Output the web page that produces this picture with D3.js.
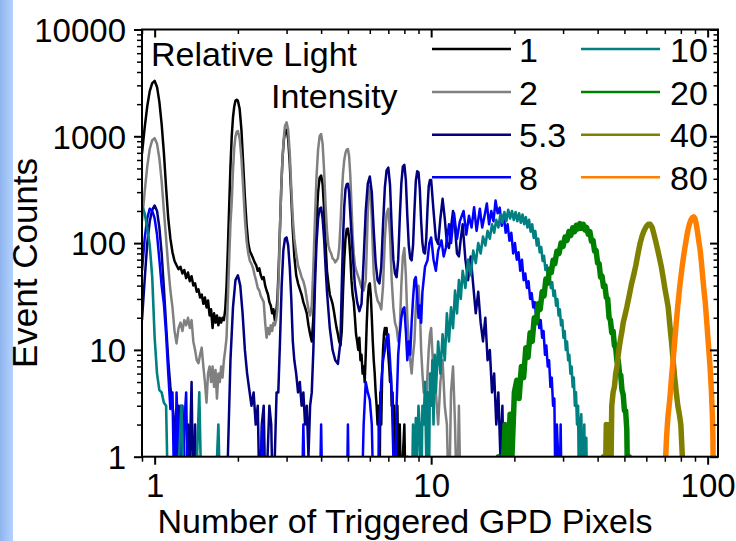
<!DOCTYPE html>
<html><head><meta charset="utf-8">
<script src="https://cdn.jsdelivr.net/npm/d3@7"></script>
<style>body{margin:0;background:#fff} svg{display:block} text{font-family:Arial,"Liberation Sans",sans-serif;fill:#000}</style>
</head><body><svg id="c" width="736" height="541"></svg>
<script>
// ---------------- data ----------------
const seriesNames = ["1","2","5.3","8","10","20","40","80"];
const seriesColors = ["#000000","#808080","#000080","#0000ff","#008080","#008000","#808000","#ff8000"];
const xTickValues = [1,10,100];
const xTickLabels = ["1","10","100"];
const yTickValues = [1,10,100,1000,10000];
const yTickLabels = ["1","10","100","1000","10000"];
const legendTitle = ["Relative Light","Intensity"];
const xTitle = "Number of Triggered GPD Pixels";
const yTitle = "Event Counts";

const s1 = [[0.9,690],[0.92,1200],[0.94,1900],[0.96,2650],[0.98,3150],[1.0,3300],[1.02,2900],[1.04,2100],[1.06,1300],[1.08,700],[1.1,330],[1.12,170],[1.14,110],[1.16,82],[1.18,68],[1.2,62],[1.22,57],[1.24,60],[1.26,52],[1.28,56],[1.3,47],[1.32,53],[1.34,44],[1.36,49],[1.38,40],[1.4,42],[1.42,35],[1.44,37],[1.46,31],[1.48,33],[1.5,27],[1.52,31],[1.54,25],[1.56,29],[1.58,21],[1.6,24],[1.62,16],[1.64,22],[1.66,18],[1.68,21],[1.7,17],[1.72,20],[1.74,18],[1.76,20],[1.78,19],[1.8,24],[1.82,40],[1.84,90],[1.86,220],[1.88,520],[1.9,1000],[1.92,1500],[1.94,1900],[1.96,2150],[1.98,2200],[2.0,2150],[2.03,1800],[2.06,1150],[2.09,560],[2.12,270],[2.15,150],[2.18,100],[2.21,84],[2.24,78],[2.27,72],[2.3,66],[2.33,62],[2.36,55],[2.39,58],[2.42,50],[2.45,46],[2.48,48],[2.51,40],[2.54,36],[2.57,33],[2.6,28],[2.63,26],[2.66,22],[2.69,24],[2.72,19],[2.75,22],[2.78,30],[2.81,60],[2.84,140],[2.87,330],[2.9,620],[2.93,900],[2.96,1100],[3.0,1150],[3.04,950],[3.08,560],[3.12,270],[3.16,130],[3.2,75],[3.25,50],[3.3,42],[3.35,37],[3.4,33],[3.45,28],[3.5,25],[3.55,22],[3.6,17],[3.65,14],[3.7,12],[3.75,20],[3.8,60],[3.85,160],[3.9,300],[3.95,410],[4.0,430],[4.05,360],[4.1,210],[4.15,100],[4.2,55],[4.25,42],[4.3,33],[4.35,30],[4.4,27],[4.45,23],[4.5,19],[4.55,16],[4.6,14],[4.65,12],[4.7,11],[4.75,15],[4.8,35],[4.85,70],[4.9,110],[4.95,135],[5.0,137],[5.05,110],[5.1,75],[5.15,45],[5.2,33],[5.25,28],[5.3,20],[5.35,14],[5.4,12],[5.45,10],[5.5,13],[5.55,8],[5.6,9],[5.65,6],[5.7,7],[5.75,5],[5.8,9],[5.85,18],[5.9,30],[5.95,40],[6.0,42],[6.05,32],[6.1,20],[6.15,12],[6.2,8],[6.25,6],[6.3,4],[6.35,3],[6.4,2],[6.45,3],[6.5,0],[6.55,4],[6.6,2],[6.65,6],[6.7,10],[6.75,14],[6.8,16],[6.85,14],[6.9,16],[6.95,12],[7.0,9],[7.05,7],[7.1,5],[7.15,6],[7.2,3],[7.25,4],[7.3,2],[7.35,3],[7.4,1],[7.45,0],[7.5,2],[7.55,3],[7.6,1],[7.7,2],[7.8,0],[7.9,1],[8.0,2],[8.1,0],[8.2,1],[8.3,0]];

const s2 = [[0.9,160],[0.92,300],[0.94,520],[0.96,760],[0.98,920],[1.0,960],[1.02,850],[1.04,620],[1.06,380],[1.08,200],[1.1,110],[1.12,60],[1.14,36],[1.16,25],[1.18,15],[1.2,11.5],[1.22,16],[1.24,18],[1.26,15],[1.28,19],[1.3,17],[1.32,20],[1.34,16],[1.36,19],[1.38,12],[1.4,10],[1.42,8],[1.44,7.5],[1.46,9],[1.48,10.5],[1.5,7],[1.52,5],[1.54,3.2],[1.56,6],[1.58,7],[1.6,5],[1.62,7],[1.64,4.5],[1.66,6.5],[1.68,3.5],[1.7,6],[1.72,5],[1.74,7],[1.76,5.5],[1.78,8],[1.8,10],[1.82,13],[1.84,30],[1.86,70],[1.88,150],[1.9,240],[1.92,480],[1.94,780],[1.96,1000],[1.98,1100],[2.0,1120],[2.03,950],[2.06,620],[2.09,330],[2.12,170],[2.15,105],[2.18,80],[2.21,68],[2.24,64],[2.27,58],[2.3,50],[2.33,44],[2.36,38],[2.39,36],[2.42,32],[2.45,30],[2.48,28],[2.51,18],[2.54,13],[2.57,16],[2.6,14],[2.63,17],[2.66,15],[2.69,18],[2.72,17],[2.75,19],[2.78,24],[2.81,50],[2.84,140],[2.87,330],[2.9,620],[2.93,950],[2.96,1250],[3.0,1350],[3.04,1150],[3.08,700],[3.12,330],[3.16,170],[3.2,110],[3.25,80],[3.3,62],[3.35,55],[3.4,48],[3.45,44],[3.5,38],[3.55,30],[3.6,24],[3.65,21],[3.7,26],[3.75,60],[3.8,170],[3.85,420],[3.9,750],[3.95,1000],[4.0,1050],[4.05,850],[4.1,480],[4.15,230],[4.2,130],[4.25,95],[4.3,85],[4.35,80],[4.4,72],[4.45,70],[4.5,66],[4.55,69],[4.6,72],[4.65,90],[4.7,150],[4.75,280],[4.8,450],[4.85,600],[4.9,700],[4.95,750],[5.0,760],[5.05,650],[5.1,430],[5.15,230],[5.2,120],[5.25,80],[5.3,62],[5.35,56],[5.4,52],[5.5,45],[5.6,38],[5.7,36],[5.8,45],[5.85,90],[5.9,190],[5.95,300],[6.0,340],[6.05,280],[6.1,170],[6.15,90],[6.2,52],[6.3,35],[6.4,29],[6.5,27],[6.6,24],[6.7,40],[6.8,110],[6.9,190],[7.0,210],[7.1,120],[7.2,45],[7.3,25],[7.4,18],[7.5,16],[7.6,12],[7.7,15],[7.8,40],[7.9,75],[8.0,90],[8.1,50],[8.2,20],[8.3,12],[8.4,8],[8.5,6],[8.6,9],[8.7,12],[8.8,25],[8.9,35],[9.0,40],[9.1,25],[9.2,10],[9.3,6],[9.4,4],[9.5,5],[9.6,3],[9.7,6],[9.8,10],[9.9,14],[10.0,16],[10.2,6],[10.4,4],[10.6,2],[10.8,5],[11.0,8],[11.2,3],[11.4,2],[11.6,0],[11.8,4],[12.0,7],[12.2,2],[12.4,0],[12.6,3],[12.8,0]];

const s3 = [[0.9,19],[0.92,45],[0.94,99],[0.96,160],[0.98,205],[1.0,225],[1.02,200],[1.04,140],[1.06,80],[1.08,38],[1.1,17],[1.12,8],[1.14,4.5],[1.16,3],[1.18,2],[1.2,1],[1.22,3],[1.24,0],[1.26,3],[1.28,1],[1.3,0],[1.32,2],[1.34,1],[1.36,5],[1.38,0],[1.4,2],[1.42,0],[1.44,1],[1.5,0],[1.8,0],[1.84,1],[1.88,8],[1.92,25],[1.96,45],[2.0,50],[2.04,40],[2.08,22],[2.12,10],[2.16,6],[2.2,4.2],[2.24,3],[2.28,4],[2.32,2],[2.36,3],[2.4,0],[2.44,2],[2.48,3],[2.52,0],[2.56,1],[2.6,3],[2.64,2],[2.68,0],[2.72,1],[2.76,4],[2.8,4],[2.84,12],[2.88,40],[2.92,85],[2.96,110],[3.0,113],[3.04,95],[3.08,60],[3.12,30],[3.16,12],[3.2,8],[3.25,6],[3.3,4],[3.35,5],[3.4,3],[3.45,4],[3.5,2],[3.55,3],[3.6,1],[3.65,3],[3.7,4],[3.75,10],[3.8,40],[3.85,100],[3.9,170],[3.95,210],[4.0,215],[4.05,170],[4.1,110],[4.15,60],[4.2,35],[4.3,16],[4.4,10],[4.5,8],[4.6,7.4],[4.7,12],[4.75,40],[4.8,110],[4.85,220],[4.9,320],[4.95,355],[5.0,360],[5.05,300],[5.1,190],[5.2,80],[5.3,40],[5.4,28],[5.5,23],[5.6,27],[5.7,70],[5.8,200],[5.9,360],[6.0,420],[6.1,300],[6.2,130],[6.3,65],[6.4,45],[6.5,42],[6.6,60],[6.7,150],[6.8,330],[6.9,480],[7.0,510],[7.1,350],[7.2,140],[7.3,70],[7.4,52],[7.5,48],[7.6,70],[7.7,170],[7.8,360],[7.9,520],[8.0,540],[8.1,390],[8.2,180],[8.3,95],[8.4,72],[8.5,69],[8.6,95],[8.7,200],[8.8,380],[8.9,470],[9.0,460],[9.1,320],[9.2,160],[9.3,100],[9.4,82],[9.5,80],[9.6,110],[9.7,210],[9.8,340],[9.9,390],[10.0,390],[10.2,200],[10.4,110],[10.6,98],[10.8,170],[11.0,260],[11.2,170],[11.4,100],[11.6,90],[11.8,140],[12.0,200],[12.2,140],[12.4,80],[12.6,75],[12.8,110],[13.0,150],[13.3,70],[13.6,45],[13.9,75],[14.2,40],[14.5,22],[14.8,35],[15.1,18],[15.4,12],[15.7,20],[16.0,8],[16.3,10],[16.6,4],[16.9,6],[17.2,2],[17.5,4],[17.8,1],[18.1,3],[18.4,0],[18.7,2],[19.0,0],[19.3,1],[19.6,0]];

const s4 = [[0.9,55],[0.92,110],[0.94,170],[0.96,210],[0.98,200],[1.0,170],[1.02,120],[1.04,70],[1.06,40],[1.08,27],[1.1,14],[1.12,6],[1.14,2.8],[1.16,4],[1.18,0],[1.2,4],[1.22,1],[1.24,3],[1.26,0],[1.28,2],[1.3,4],[1.32,0],[1.34,1],[1.36,0],[1.4,1],[1.45,0],[2.4,0],[2.45,2],[2.5,0],[3.4,0],[3.45,2],[3.5,0],[3.95,0],[4.0,2],[4.05,0],[4.95,0],[5.0,2],[5.05,0],[5.6,0],[5.7,2],[5.8,5],[5.9,4],[6.0,3.4],[6.1,2],[6.2,0],[6.4,0],[6.5,2],[6.6,5],[6.7,8],[6.8,10],[6.9,13],[7.0,14],[7.1,8],[7.2,4],[7.3,1],[7.4,0],[7.5,3],[7.6,9],[7.7,14],[7.8,20],[7.9,24],[8.0,25],[8.1,15],[8.2,8],[8.3,12],[8.4,9],[8.5,18],[8.6,30],[8.7,45],[8.8,48],[8.9,32],[9.0,20],[9.1,26],[9.2,18],[9.3,35],[9.5,60],[9.7,69],[9.85,100],[10.0,113],[10.2,70],[10.4,55],[10.6,85],[10.9,106],[11.1,75],[11.3,90],[11.6,150],[11.8,100],[12.1,190],[12.4,110],[12.7,160],[13.1,200],[13.4,120],[13.7,180],[14.0,140],[14.3,217],[14.6,130],[15.0,210],[15.3,140],[15.6,180],[15.9,235],[16.2,150],[16.5,200],[16.8,160],[17.1,250],[17.4,190],[17.7,215],[18.0,145],[18.3,185],[18.6,125],[18.9,150],[19.2,105],[19.5,125],[19.8,80],[20.1,100],[20.4,70],[20.7,82],[21.0,55],[21.3,70],[21.6,45],[21.9,52],[22.2,38],[22.5,44],[22.8,30],[23.1,34],[23.4,25],[23.7,28],[24.0,20],[24.3,24],[24.6,16],[24.9,19],[25.2,13],[25.5,15],[25.8,9],[26.1,11],[26.4,7],[26.7,8],[27.0,4.5],[27.3,5.5],[27.6,3],[27.9,3.5],[28.2,0],[28.5,2],[28.8,1],[29.1,0],[29.4,2],[29.7,0]];

const s5 = [[0.9,225],[0.92,190],[0.94,140],[0.96,95],[0.98,48],[1.0,13],[1.02,6],[1.04,4.2],[1.06,4],[1.08,3.2],[1.1,3],[1.12,0],[1.2,0],[1.25,3],[1.28,0],[1.4,0],[1.45,4],[1.48,0],[1.65,0],[1.7,2],[1.73,0],[8.5,0],[8.6,2],[8.7,0],[8.8,2.3],[8.9,1],[9.0,3],[9.1,1.9],[9.2,0],[9.3,3],[9.4,2],[9.5,5],[9.6,1],[9.7,4],[9.8,0],[9.9,6],[10.0,3],[10.1,8],[10.2,2],[10.3,9],[10.4,4],[10.6,12],[10.8,6],[11.0,14],[11.2,8],[11.4,22],[11.6,12],[11.8,25],[12.0,16],[12.2,36],[12.4,22],[12.6,45],[12.8,30],[13.0,55],[13.3,38],[13.6,70],[13.9,50],[14.2,85],[14.5,65],[14.8,100],[15.1,80],[15.4,115],[15.7,95],[16.0,130],[16.3,110],[16.6,150],[16.9,125],[17.2,165],[17.5,140],[17.8,185],[18.1,155],[18.4,195],[18.7,160],[19.0,205],[19.3,170],[19.6,200],[19.9,165],[20.2,195],[20.5,160],[20.8,190],[21.1,155],[21.4,185],[21.7,150],[22.0,175],[22.3,140],[22.6,165],[22.9,128],[23.2,150],[23.5,112],[23.8,130],[24.1,95],[24.4,110],[24.7,82],[25.0,92],[25.3,68],[25.6,76],[25.9,56],[26.2,62],[26.5,46],[26.8,52],[27.1,38],[27.4,43],[27.7,32],[28.0,36],[28.3,26],[28.6,30],[28.9,21],[29.2,24],[29.5,17],[29.8,19],[30.1,13],[30.4,15],[30.7,10],[31.0,12],[31.3,8],[31.6,9],[31.9,6],[32.2,7],[32.5,4.5],[32.8,5.5],[33.1,3],[33.4,4],[33.7,2],[34.0,3],[34.3,0],[34.6,2],[34.9,2.5],[35.2,1],[35.5,0],[35.8,2],[36.1,0],[36.4,1.5],[36.7,0]];

const s6 = [[17.0,0],[17.5,1],[18.0,0],[18.5,2],[19.0,1],[19.3,2.5],[19.6,1],[20.0,4],[20.4,5.2],[20.8,3.5],[21.2,7],[21.6,5.5],[22.0,10.5],[22.4,8.5],[22.8,14.5],[23.2,12],[23.6,20],[24.0,18],[24.4,27],[24.8,24],[25.2,35],[25.6,32],[26.0,46],[26.4,42],[26.8,57],[27.2,53],[27.6,69],[28.0,64],[28.5,84],[29.0,80],[29.5,100],[30.0,93],[30.5,114],[31.0,106],[31.5,128],[32.0,118],[32.5,139],[33.0,128],[33.5,147],[34.0,136],[34.5,152],[35.0,138],[35.5,150],[36.0,133],[36.5,140],[37.0,121],[37.5,128],[38.0,104],[38.5,106],[39.0,84],[39.5,85],[40.0,65],[40.5,64],[41.0,48],[41.5,49],[42.0,39],[42.5,40],[43.0,31],[43.5,30],[44.0,20],[44.5,19],[45.0,14.5],[45.5,15],[46.0,11],[46.5,10.5],[47.0,7.8],[47.5,8],[48.0,6],[48.5,5.8],[49.0,4.2],[49.5,3.8],[50.0,2.7],[50.5,2.7],[51.0,1.8],[51.5,0],[52.0,1],[52.5,0]];

const s7 = [[41.5,0],[42,1],[42.5,0],[43,2],[43.5,1],[44,2],[44.5,0],[45,3],[45.5,4],[46,4.5],[46.5,6],[47,7],[47.5,9],[48,11],[48.5,13],[49,15],[49.5,18],[50,20],[51,25],[52,32],[53,41],[54,50],[55,62],[56,80],[57,100],[58,118],[59,132],[60,143],[61,150],[62,150],[63,140],[64,120],[65,102],[66,86],[67,72],[68,60],[69,48],[70,38],[71,31],[72,25],[73,17],[74,12],[75,8],[76,5.5],[77,4],[78,3],[79,2.5],[80,2],[81,1],[81.5,0]];

const s8 = [[70,0],[70.5,1],[71,1.5],[71.5,2],[72,2.5],[73,3.5],[74,5.5],[75,8],[76,12],[77,18],[78,26],[79,36],[80,48],[81,62],[82,78],[83,95],[84,115],[85,135],[86,152],[87,165],[88,173],[89,176],[90,170],[91,150],[92,125],[93,102],[94,85],[95,65],[96,48],[97,36],[98,28],[99,20],[100,14],[101,10],[102,7],[103,4.5],[104,2.5],[104.5,1.5],[105,0]];

const seriesData = [s1,s2,s3,s4,s5,s6,s7,s8];

// ---------------- layout / style ----------------
const W = 736, H = 541;
const L = 142, R = 718, T = 29.5, B = 456.7;
const strokeW = [2.5,2.5,2.5,2.5,2.6,5.5,5.5,5.5];

const svg = d3.select("#c");
const defs = svg.append("defs");
const grad = defs.append("linearGradient").attr("id","strip").attr("x1","0").attr("x2","1");
grad.append("stop").attr("offset","0").attr("stop-color","#8fb3ee");
grad.append("stop").attr("offset","1").attr("stop-color","#b3d3ff");
svg.append("rect").attr("x",0).attr("y",0).attr("width",13).attr("height",H).attr("fill","url(#strip)");

defs.append("clipPath").attr("id","plot").append("rect")
  .attr("x",L).attr("y",T).attr("width",R-L).attr("height",B-T);

const x = d3.scaleLog().domain([0.9,109]).range([L,R]);
const y = d3.scaleLog().domain([1,10000]).range([B,T]);

const line = d3.line().x(d=>x(d[0])).y(d=>y(Math.max(d[1],0.3)));

const g = svg.append("g").attr("clip-path","url(#plot)");
seriesData.forEach((s,i)=>{
  g.append("path").datum(s).attr("d",line).attr("fill","none")
    .attr("stroke",seriesColors[i]).attr("stroke-width",strokeW[i])
    .attr("stroke-linejoin","round");
});

// axes
const xMinor = x.ticks().filter(v=>!xTickValues.includes(v) && v>=0.9);
const yMinor = y.ticks().filter(v=>!yTickValues.includes(v));

// bottom (outward)
svg.append("g").attr("transform",`translate(0,${B})`)
  .call(d3.axisBottom(x).tickValues(xTickValues).tickFormat((d,i)=>xTickLabels[i]).tickSize(8).tickPadding(6))
  .call(a=>{a.select(".domain").remove(); a.selectAll("line").attr("stroke","#000").attr("stroke-width",2);
    a.selectAll("text").attr("font-size",33).attr("fill","#000").attr("dy","0.75em").attr("y",16);});
svg.append("g").attr("transform",`translate(0,${B})`)
  .call(d3.axisBottom(x).tickValues(xMinor).tickFormat("").tickSize(5))
  .call(a=>{a.select(".domain").remove(); a.selectAll("line").attr("stroke","#000").attr("stroke-width",1.5);});
// top (inward)
svg.append("g").attr("transform",`translate(0,${T})`)
  .call(d3.axisBottom(x).tickValues(xTickValues).tickFormat("").tickSize(8))
  .call(a=>{a.select(".domain").remove(); a.selectAll("line").attr("stroke","#000").attr("stroke-width",2);});
svg.append("g").attr("transform",`translate(0,${T})`)
  .call(d3.axisBottom(x).tickValues(xMinor).tickFormat("").tickSize(4.5))
  .call(a=>{a.select(".domain").remove(); a.selectAll("line").attr("stroke","#000").attr("stroke-width",1.5);});
// left (outward)
svg.append("g").attr("transform",`translate(${L},0)`)
  .call(d3.axisLeft(y).tickValues(yTickValues).tickFormat((d,i)=>yTickLabels[i]).tickSize(8).tickPadding(8))
  .call(a=>{a.select(".domain").remove(); a.selectAll("line").attr("stroke","#000").attr("stroke-width",2);
    a.selectAll("text").attr("font-size",33).attr("fill","#000").attr("dy","0.36em");});
svg.append("g").attr("transform",`translate(${L},0)`)
  .call(d3.axisLeft(y).tickValues(yMinor).tickFormat("").tickSize(5))
  .call(a=>{a.select(".domain").remove(); a.selectAll("line").attr("stroke","#000").attr("stroke-width",1.5);});
// right (inward)
svg.append("g").attr("transform",`translate(${R},0)`)
  .call(d3.axisLeft(y).tickValues(yTickValues).tickFormat("").tickSize(8))
  .call(a=>{a.select(".domain").remove(); a.selectAll("line").attr("stroke","#000").attr("stroke-width",2);});
svg.append("g").attr("transform",`translate(${R},0)`)
  .call(d3.axisLeft(y).tickValues(yMinor).tickFormat("").tickSize(4.5))
  .call(a=>{a.select(".domain").remove(); a.selectAll("line").attr("stroke","#000").attr("stroke-width",1.5);});
// frame
svg.append("rect").attr("x",L).attr("y",T).attr("width",R-L).attr("height",B-T)
  .attr("fill","none").attr("stroke","#000").attr("stroke-width",2);

// titles
svg.append("text").attr("x",405).attr("y",533).attr("text-anchor","middle").attr("font-size",34).text(xTitle);
svg.append("text").attr("transform","translate(37,263) rotate(-90)").attr("text-anchor","middle").attr("font-size",35).text(yTitle);

// legend
svg.append("text").attr("x",151).attr("y",66).attr("font-size",34).text(legendTitle[0]);
svg.append("text").attr("x",271).attr("y",108).attr("font-size",34).text(legendTitle[1]);
const rowY = [49,92,134.7,177.3];
seriesNames.forEach((n,i)=>{
  const col = Math.floor(i/4), row = i%4;
  const lx = col===0 ? 432 : 581;
  const cy = rowY[row];
  svg.append("line").attr("x1",lx).attr("x2",lx+79).attr("y1",cy).attr("y2",cy)
    .attr("stroke",seriesColors[i]).attr("stroke-width",2.5);
  svg.append("text").attr("x", col===0 ? 519 : 670).attr("y",cy+12.5).attr("font-size",34).text(n);
});
</script></body></html>
